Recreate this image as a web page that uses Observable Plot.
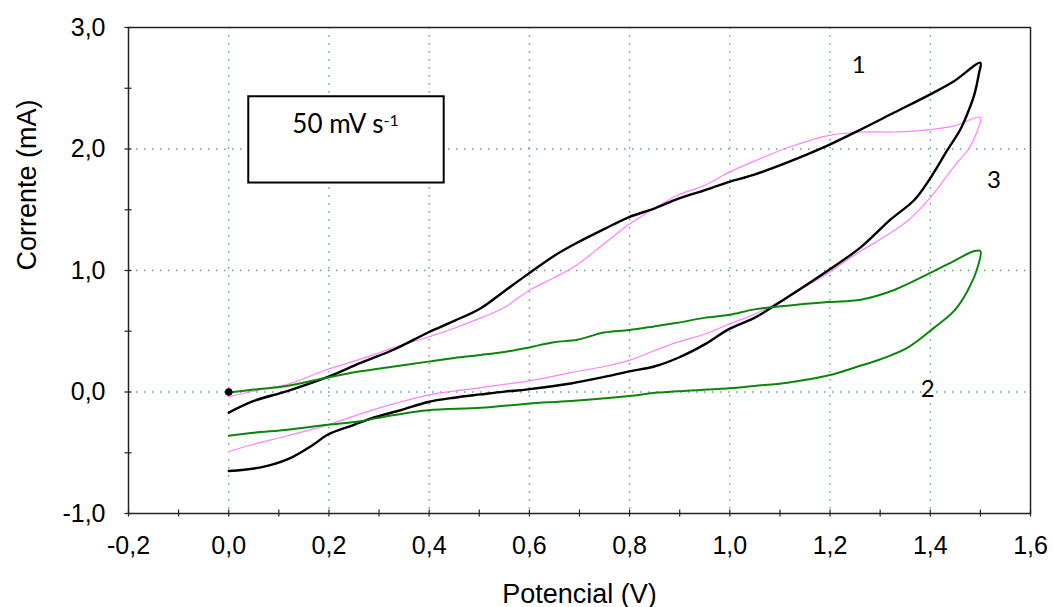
<!DOCTYPE html>
<html>
<head>
<meta charset="utf-8">
<script src="https://cdn.jsdelivr.net/npm/d3@7"></script>
<script src="https://cdn.jsdelivr.net/npm/@observablehq/plot@0.6"></script>
<style>
  html, body { margin: 0; padding: 0; background: #fff; }
  #chart { width: 1053px; height: 607px; }
</style>
</head>
<body>
<div id="chart"></div>
<script>
// ---- Tick values ----
const xTicks = [-0.2, 0.0, 0.2, 0.4, 0.6, 0.8, 1.0, 1.2, 1.4, 1.6];
const yTicks = [-1, 0, 1, 2, 3];
const xMinorTicks = [-0.2, -0.1, 0.0, 0.1, 0.2, 0.3, 0.4, 0.5, 0.6, 0.7, 0.8, 0.9, 1.0, 1.1, 1.2, 1.3, 1.4, 1.5, 1.6];
const yMinorTicks = [-1, -0.5, 0, 0.5, 1, 1.5, 2, 2.5, 3];

// ---- Curve 1 (black) : potential (V) / current (mA) ----
const curve1Potential = [0, 0.05, 0.117, 0.198, 0.263, 0.33, 0.398, 0.45, 0.503, 0.55, 0.597, 0.649, 0.696, 0.749, 0.799, 0.849, 0.896, 0.949, 0.999, 1.049, 1.115, 1.196, 1.261, 1.328, 1.40, 1.448, 1.50,
  1.497, 1.488, 1.475, 1.46, 1.434, 1.40, 1.368, 1.321, 1.261, 1.196, 1.115, 1.049, 0.999, 0.949, 0.896, 0.849, 0.799, 0.749, 0.683, 0.597, 0.55, 0.503, 0.45, 0.398, 0.343, 0.29, 0.25, 0.198, 0.17, 0.117, 0.064, 0];
const curve1Current = [-0.17, -0.074, 0.008, 0.124, 0.24, 0.35, 0.49, 0.585, 0.69, 0.83, 0.97, 1.12, 1.23, 1.34, 1.44, 1.51, 1.59, 1.66, 1.73, 1.79, 1.89, 2.03, 2.16, 2.30, 2.45, 2.56, 2.71,
  2.62, 2.45, 2.30, 2.16, 1.99, 1.76, 1.58, 1.42, 1.19, 1.00, 0.78, 0.61, 0.52, 0.39, 0.28, 0.21, 0.17, 0.124, 0.07, 0.022, 0.003, -0.02, -0.047, -0.082, -0.15, -0.21, -0.27, -0.35, -0.43, -0.555, -0.62, -0.65];

// ---- Curve 2 (green) ----
const curve2Potential = [0, 0.05, 0.117, 0.198, 0.263, 0.33, 0.398, 0.45, 0.503, 0.55, 0.597, 0.649, 0.696, 0.749, 0.799, 0.849, 0.896, 0.949, 0.999, 1.049, 1.115, 1.196, 1.261, 1.328, 1.40, 1.448, 1.488, 1.50,
  1.494, 1.474, 1.448, 1.408, 1.355, 1.301, 1.248, 1.20, 1.115, 1.049, 0.999, 0.856, 0.799, 0.683, 0.597, 0.503, 0.398, 0.33, 0.263, 0.198, 0.117, 0.05, 0];
const curve2Current = [-0.005, 0.02, 0.05, 0.12, 0.17, 0.21, 0.25, 0.28, 0.305, 0.33, 0.365, 0.41, 0.43, 0.49, 0.51, 0.54, 0.57, 0.61, 0.635, 0.68, 0.71, 0.74, 0.76, 0.84, 0.98, 1.08, 1.16, 1.16,
  1.02, 0.83, 0.67, 0.53, 0.365, 0.27, 0.20, 0.14, 0.077, 0.05, 0.03, -0.005, -0.033, -0.074, -0.096, -0.13, -0.15, -0.19, -0.24, -0.27, -0.31, -0.335, -0.36];

// ---- Curve 3 (pink) ----
const curve3Potential = [0, 0.05, 0.117, 0.198, 0.263, 0.33, 0.398, 0.45, 0.503, 0.55, 0.597, 0.649, 0.696, 0.749, 0.799, 0.849, 0.896, 0.949, 0.999, 1.049, 1.115, 1.196, 1.261, 1.328, 1.40, 1.448, 1.50,
  1.494, 1.478, 1.448, 1.40, 1.355, 1.301, 1.261, 1.196, 1.148, 1.115, 1.049, 0.999, 0.949, 0.896, 0.849, 0.799, 0.749, 0.683, 0.597, 0.503, 0.398, 0.33, 0.263, 0.198, 0.117, 0.05, 0];
const curve3Current = [-0.04, 0.008, 0.063, 0.187, 0.27, 0.365, 0.453, 0.525, 0.61, 0.695, 0.83, 0.94, 1.05, 1.22, 1.38, 1.51, 1.62, 1.70, 1.81, 1.90, 2.01, 2.11, 2.14, 2.14, 2.16, 2.19, 2.26,
  2.15, 2.01, 1.86, 1.60, 1.41, 1.26, 1.16, 0.98, 0.86, 0.78, 0.64, 0.56, 0.475, 0.41, 0.34, 0.26, 0.21, 0.16, 0.09, 0.036, -0.025, -0.096, -0.18, -0.27, -0.36, -0.43, -0.49];

// ---- Start point and labels ----
const startPoint = [0, 0];
const curveLabels = ["1", "2", "3"];
const scanRateText = "50 mV s";
const scanRateExp = "-1";
const xTitle = "Potencial (V)";
const yTitle = "Corrente (mA)";

const toRows = (xs, ys) => xs.map((x, i) => ({potential: x, current: ys[i]}));
const c1 = toRows(curve1Potential, curve1Current);
const c2 = toRows(curve2Potential, curve2Current);
const c3 = toRows(curve3Potential, curve3Current);

const fmt = d => (Math.abs(d) < 1e-9 ? 0 : d).toFixed(1).replace(".", ",");
const axisFont = "'Liberation Sans', Arial, sans-serif";
const gridStyle = {stroke: "#5a9c9c", strokeOpacity: 1, strokeWidth: 1.4, strokeDasharray: "1.4,6.6"};

const chart = Plot.plot({
  width: 1053,
  height: 607,
  marginLeft: 128,
  marginRight: 23,
  marginTop: 27,
  marginBottom: 94,
  style: {fontFamily: axisFont, fontSize: "25px", color: "#000", background: "#fff", overflow: "visible"},
  x: {domain: [xTicks[0], xTicks[xTicks.length - 1]]},
  y: {domain: [yTicks[0], yTicks[yTicks.length - 1]]},
  marks: [
    Plot.gridX(xTicks.slice(1, -1), gridStyle),
    Plot.gridY(yTicks.slice(1, -1), gridStyle),
    Plot.rect([scanRateText], {x1: 0.04, x2: 0.43, y1: 1.72, y2: 2.43, fill: "white", stroke: "black", strokeWidth: 2}),
    Plot.text([scanRateText], {x: 0.127, y: 2.2, text: d => d, textAnchor: "start", lineAnchor: "middle", fontFamily: "Lato, 'Open Sans', sans-serif", fontSize: 26, fill: "#000"}),
    Plot.line(c3, {x: "potential", y: "current", stroke: "#ff80ff", strokeWidth: 1.2, curve: "catmull-rom"}),
    Plot.line(c1, {x: "potential", y: "current", stroke: "#000", strokeWidth: 2.4, curve: "catmull-rom"}),
    Plot.line(c2, {x: "potential", y: "current", stroke: "#0a860a", strokeWidth: 2, curve: "catmull-rom"}),
    Plot.dot([startPoint], {x: d => d[0], y: d => d[1], r: 3.8, fill: "#000", stroke: "none"}),
    Plot.text(curveLabels, {
      x: d => ({"1": 1.257, "2": 1.395, "3": 1.527})[d],
      y: d => ({"1": 2.69, "2": 0.02, "3": 1.74})[d],
      text: d => d, fontFamily: "Lato, 'Open Sans', sans-serif", fontSize: 24, fill: "#000", lineAnchor: "middle"
    }),
    Plot.frame({stroke: "#222", strokeWidth: 1.5}),
    Plot.ruleX(xMinorTicks, {x: d => d, y1: yTicks[0], y2: yTicks[0], insetTop: -3.5, insetBottom: -3.5, stroke: "#222", strokeWidth: 1.2}),
    Plot.ruleY(yMinorTicks, {y: d => d, x1: xTicks[0], x2: xTicks[0], insetLeft: -3.5, insetRight: -3.5, stroke: "#222", strokeWidth: 1.2}),
    Plot.axisX({ticks: xTicks, tickFormat: fmt, tickSize: 0, tickPadding: 23, label: null, fontSize: 25}),
    Plot.axisY({ticks: yTicks, tickFormat: fmt, tickSize: 0, tickPadding: 23, label: null, fontSize: 25}),
    Plot.text([xTitle], {frameAnchor: "bottom", dy: 81, text: d => d, lineAnchor: "middle", fontSize: 27, fill: "#000"}),
    Plot.text([yTitle], {frameAnchor: "left", dx: -101, text: d => d, rotate: -90, lineAnchor: "middle", fontSize: 27, fill: "#000"})
  ]
});

// superscript exponent on the scan-rate annotation
d3.select(chart).selectAll("text")
  .filter(function () { return this.textContent === scanRateText; })
  .append("tspan")
  .attr("dy", "-0.45em")
  .attr("font-size", "16")
  .text(scanRateExp);

document.getElementById("chart").appendChild(chart);
</script>
</body>
</html>
